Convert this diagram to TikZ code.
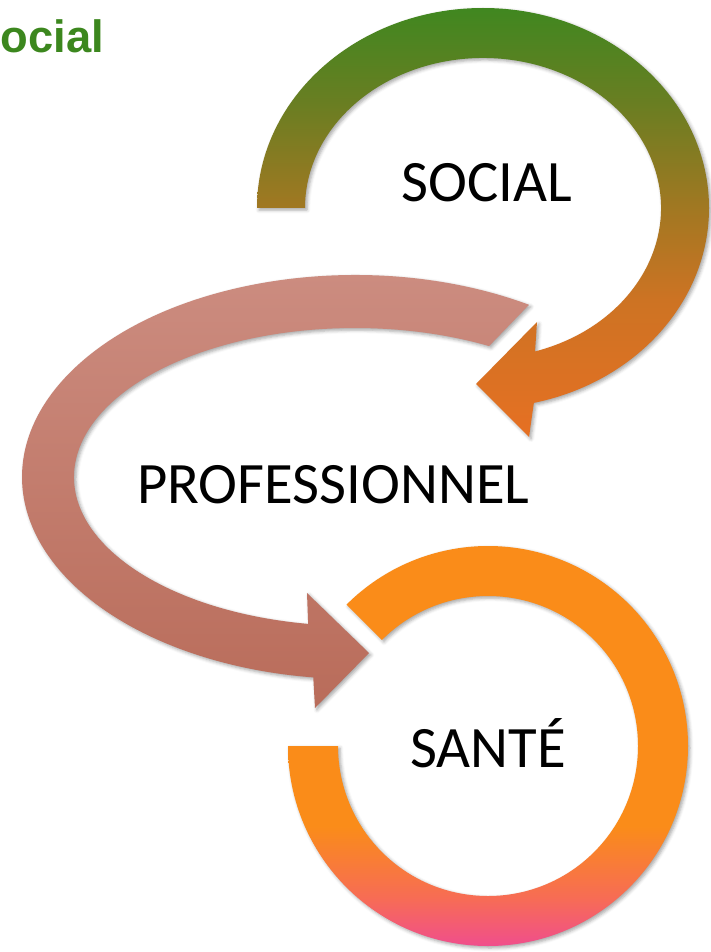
\documentclass[tikz,border=0pt]{standalone}
\usepackage{fontspec}
\setmainfont{Carlito}
\newfontfamily\titlefont{Liberation Sans}
\usetikzlibrary{calc,shadows.blur}

\definecolor{socialtop}{RGB}{64,135,32}
\definecolor{socialolive}{RGB}{105,126,34}
\definecolor{socialmid}{RGB}{160,120,34}
\definecolor{socialrust}{RGB}{205,115,35}
\definecolor{socialbot}{RGB}{230,112,35}
\definecolor{protop}{RGB}{205,142,130}
\definecolor{probot}{RGB}{185,108,90}
\definecolor{santeorange}{RGB}{250,140,25}
\definecolor{santecoral}{RGB}{247,108,85}
\definecolor{santepink}{RGB}{240,78,140}
\definecolor{titlegreen}{RGB}{60,135,30}

\pgfdeclareverticalshading{socialshading}{100bp}{color(0bp)=(socialbot); color(25bp)=(socialbot); color(41bp)=(socialrust); color(52bp)=(socialmid); color(64bp)=(socialolive); color(75bp)=(socialtop); color(100bp)=(socialtop)}
\pgfdeclareverticalshading{santeshading}{100bp}{color(0bp)=(santepink); color(25bp)=(santepink); color(31bp)=(santecoral); color(40bp)=(santeorange); color(100bp)=(santeorange)}

\tikzset{
  band/.style={blur shadow={shadow xshift=1.5pt,shadow yshift=-1.5pt,shadow blur radius=2.5pt,shadow opacity=35}},
  bigtext/.style={anchor=base west,inner sep=0pt,font=\fontsize{44}{52}\selectfont}
}

\begin{document}
\begin{tikzpicture}[x=0.75pt,y=-0.75pt]
\useasboundingbox (0,0) rectangle (710,952);

\coordinate (socialc) at (483,208);
\coordinate (proc) at (355,477);
\coordinate (santec) at (488,746);

%Shape: Circular Arrow [social]
\shade[band,shading=socialshading]
  ($(socialc)+(180:226 and 200)$) arc[start angle=180,end angle=437,x radius=226,y radius=200]
  -- (529,437) -- (476,384) -- (537,322)
  -- ($(socialc)+(433:178 and 150)$) arc[start angle=433,end angle=180,x radius=178,y radius=150] -- cycle;

%Shape: Circular Arrow [professionnel]
\shade[band,top color=protop,bottom color=probot]
  ($(proc)+(-58.5:333 and 202)$) arc[start angle=-58.5,end angle=-262.8,x radius=333,y radius=202]
  -- (315,708) -- (369,653) -- (307,593)
  -- ($(proc)+(-260.4:281 and 149)$) arc[start angle=-260.4,end angle=-61.5,x radius=281,y radius=149] -- cycle;

%Shape: Block Arc [sante]
\shade[band,shading=santeshading]
  ($(santec)+(180:200)$) arc[start angle=180,end angle=-135,radius=200]
  -- ($(santec)+(-135:150)$) arc[start angle=-135,end angle=180,radius=150] -- cycle;

% Text Node
\node[bigtext] (social) at (401,202) {SOCIAL};
% Text Node
\node[bigtext] (pro) at (137,503) {PROFESSIONNEL};
% Text Node
\node[bigtext] (sante) at (410,767) {SANTÉ};
% Text Node
\node[anchor=base west,inner sep=0pt,text=titlegreen,font=\titlefont\bfseries\fontsize{34}{40}\selectfont] (title) at (0.5,53) {ocial};

\end{tikzpicture}
\end{document}
